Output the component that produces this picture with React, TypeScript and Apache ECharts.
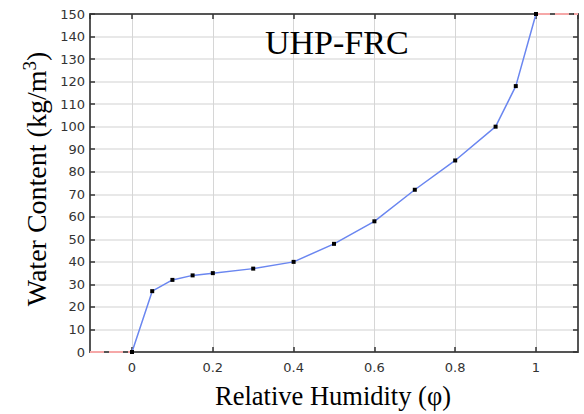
import React, { useEffect, useRef } from "react";
import * as echarts from "echarts";

const humidity = [0, 0.05, 0.1, 0.15, 0.2, 0.3, 0.4, 0.5, 0.6, 0.7, 0.8, 0.9, 0.95, 1];
const waterContent = [0, 27, 32, 34, 35, 37, 40, 48, 58, 72, 85, 100, 118, 150];
const leftExtX = [-0.104, 0];
const leftExtY = [0, 0];
const rightExtX = [1, 1.104];
const rightExtY = [150, 150];

export default function App() {
  const ref = useRef<HTMLDivElement>(null);
  useEffect(() => {
    if (!ref.current) return;
    const chart = echarts.init(ref.current, undefined, { renderer: "svg" });
    const axisLine = { show: true, onZero: false, lineStyle: { color: "#555", width: 2 } };
    const tickStyle = { show: true, inside: true, length: 5, lineStyle: { color: "#333", width: 1.5 } };
    chart.setOption({
      animation: false,
      backgroundColor: "#fff",
      grid: { left: 90, right: 6, top: 14, bottom: 62, outerBoundsMode: "none", containLabel: false },
      graphic: [
        {
          type: "text",
          left: 265,
          top: 25,
          z: 100,
          style: { text: "UHP-FRC", fontFamily: "Liberation Serif", fontSize: 34, fill: "#000" },
        },
        {
          type: "text",
          x: 333,
          y: 396,
          z: 100,
          style: {
            text: "Relative Humidity (φ)",
            fontFamily: "Liberation Serif",
            fontSize: 26.5,
            fill: "#000",
            align: "center",
            verticalAlign: "middle",
          },
        },
        {
          type: "text",
          x: 36,
          y: 179,
          z: 100,
          rotation: Math.PI / 2,
          style: {
            text: "{a|Water Content (kg/m}{s|3}{a|)}",
            align: "center",
            verticalAlign: "middle",
            rich: {
              a: { fontFamily: "Liberation Serif", fontSize: 28, fill: "#000" },
              s: { fontFamily: "Liberation Serif", fontSize: 19, fill: "#000", padding: [0, 0, 14, 0] },
            },
          },
        },
      ],
      xAxis: [
        {
          type: "value",
          min: -0.104,
          max: 1.104,
          splitNumber: 6,
          axisLine,
          axisTick: tickStyle,
          splitLine: { show: true, lineStyle: { color: "#d6d6d6", width: 1 } },
          axisLabel: {
            color: "#333",
            fontFamily: "DejaVu Sans",
            fontSize: 13,
            margin: 9,
            showMinLabel: false,
            showMaxLabel: false,
            formatter: (v: number) => String(Math.round(v * 10) / 10),
          },
        },
        {
          type: "value",
          position: "top",
          min: -0.104,
          max: 1.104,
          splitNumber: 6,
          axisLine,
          axisTick: tickStyle,
          axisLabel: { show: false },
          splitLine: { show: false },
        },
      ],
      yAxis: [
        {
          type: "value",
          min: 0,
          max: 150,
          interval: 10,
          axisLine,
          axisTick: tickStyle,
          splitLine: { show: true, lineStyle: { color: "#e8e8e8", width: 2 } },
          axisLabel: { color: "#333", fontFamily: "DejaVu Sans", fontSize: 13, margin: 5 },
        },
        {
          type: "value",
          position: "right",
          min: 0,
          max: 150,
          interval: 10,
          axisLine,
          axisTick: tickStyle,
          axisLabel: { show: false },
          splitLine: { show: false },
        },
      ],
      series: [
        {
          type: "line",
          data: leftExtX.map((x, i) => [x, leftExtY[i]]),
          symbol: "none",
          lineStyle: { color: "#f6a8a8", width: 2, type: [14, 5] },
          z: 1,
        },
        {
          type: "line",
          data: rightExtX.map((x, i) => [x, rightExtY[i]]),
          symbol: "none",
          lineStyle: { color: "#f6a8a8", width: 2, type: [14, 5] },
          z: 1,
        },
        {
          type: "line",
          data: humidity.map((x, i) => [x, waterContent[i]]),
          symbol: "rect",
          symbolSize: 4,
          itemStyle: { color: "#000" },
          lineStyle: { color: "#6a86f0", width: 1.5 },
          z: 3,
        },
      ],
    });
    return () => chart.dispose();
  }, []);
  return <div ref={ref} style={{ width: 584, height: 414, position: "absolute", left: 0, top: 0 }} />;
}
